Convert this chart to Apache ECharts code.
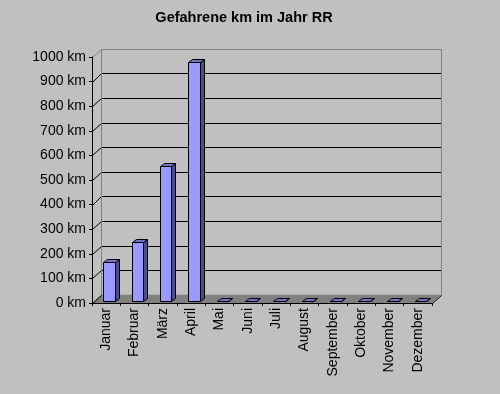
<!DOCTYPE html>
<html>
<head>
<meta charset="utf-8">
<script src="https://cdn.jsdelivr.net/npm/echarts@6/dist/echarts.min.js"></script>
<style>
html,body{margin:0;padding:0;background:#c0c0c0;}
#chart{width:500px;height:394px;}
</style>
</head>
<body>
<div id="chart"></div>
<script>
const titleText = 'Gefahrene km im Jahr RR';
const categories = ['Januar','Februar','März','April','Mai','Juni','Juli','August','September','Oktober','November','Dezember'];
const kmValues = [158, 237, 547, 970, 0, 0, 0, 0, 0, 0, 0, 0];
const yTickValues = [0, 100, 200, 300, 400, 500, 600, 700, 800, 900, 1000];
const yUnit = ' km';

const DX = 9.4, DY = -8.2;     // depth of the 3D box
const F = 0.3, G = 0.38;       // bar front position and bar depth (fractions of depth)
const FONT = 'Liberation Sans, Arial, sans-serif';

function c(v){ return Math.round(v) + 0.5; }

function renderFrame(params, api){
  const cs = params.coordSys;
  const x0 = cs.x, x1 = cs.x + cs.width;
  const yB = api.coord([0, yTickValues[0]])[1];
  const yT = api.coord([0, yTickValues[yTickValues.length - 1]])[1];
  const ch = [];
  ch.push({type:'polygon', shape:{points:[[x0, yB],[x1, yB],[x1+DX, yB+DY],[x0+DX, yB+DY]]},
           style:{fill:'#808080', stroke:null}});
  yTickValues.forEach(function(v, i){
    if (i === 0 || i === yTickValues.length - 1) return;
    const y = api.coord([0, v])[1];
    ch.push({type:'line', shape:{x1:c(x0+DX), y1:c(y+DY), x2:c(x1+DX), y2:c(y+DY)}, style:{stroke:'#000', lineWidth:1}});
    ch.push({type:'line', shape:{x1:x0+0.5, y1:c(y), x2:c(x0+DX), y2:c(y+DY)}, style:{stroke:'#000', lineWidth:1}});
  });
  ch.push({type:'polyline', shape:{points:[[c(x0+DX), c(yB+DY)],[c(x0+DX), c(yT+DY)],[c(x1+DX), c(yT+DY)],[c(x1+DX), c(yB+DY)]]},
           style:{stroke:'#808080', lineWidth:1, fill:null}});
  ch.push({type:'line', shape:{x1:x0+0.5, y1:c(yT), x2:c(x0+DX), y2:c(yT+DY)}, style:{stroke:'#808080', lineWidth:1}});
  ch.push({type:'line', shape:{x1:x0+0.5, y1:c(yB), x2:c(x0+DX), y2:c(yB+DY)}, style:{stroke:'#000', lineWidth:1}});
  ch.push({type:'line', shape:{x1:c(x1), y1:c(yB), x2:c(x1+DX), y2:c(yB+DY)}, style:{stroke:'#000', lineWidth:1}});
  return {type:'group', children: ch};
}

function renderBar(params, api){
  const idx = api.value(0), val = api.value(1);
  const p = api.coord([idx, val]);
  const yb = api.coord([idx, 0])[1];
  const band = api.size([1, 0])[0];
  const w = band * 0.41;
  const left = c(p[0] - w/2 + F*DX);
  const right = c(p[0] + w/2 + F*DX);
  const top = c(p[1] + F*DY);
  const bottom = c(yb + F*DY);
  const gx = Math.round(G*DX), gy = Math.round(G*DY);
  const st = {stroke:'#000', lineWidth:1};
  return {type:'group', children:[
    {type:'polygon', shape:{points:[[right, top],[right+gx, top+gy],[right+gx, bottom+gy],[right, bottom]]},
     style:Object.assign({fill:'#4d4d85'}, st)},
    {type:'polygon', shape:{points:[[left, top],[right, top],[right+gx, top+gy],[left+gx, top+gy]]},
     style:Object.assign({fill:'#7373c4'}, st)},
    {type:'polygon', shape:{points:[[left, top],[right, top],[right, bottom],[left, bottom]]},
     style:Object.assign({fill:'#9999ff'}, st)}
  ]};
}

const chart = echarts.init(document.getElementById('chart'), null, {renderer:'canvas'});
chart.setOption({
  backgroundColor:'#c0c0c0',
  animation:false,
  title:{
    text:titleText, left:239, top:5, textAlign:'center',
    textStyle:{fontFamily:FONT, fontSize:14.5, fontWeight:'bold', color:'#000'}
  },
  grid:{left:92, right:68, top:57, bottom:91, containLabel:false},
  xAxis:{
    type:'category', data:categories, boundaryGap:true, z:5,
    axisLine:{show:true, lineStyle:{color:'#000', width:1}},
    axisTick:{show:true, length:3, lineStyle:{color:'#000'}},
    axisLabel:{rotate:90, margin:5, interval:0, color:'#000', fontFamily:FONT, fontSize:14}
  },
  yAxis:{
    type:'value', min:yTickValues[0], max:yTickValues[yTickValues.length-1], interval:100, z:5,
    axisLine:{show:true, lineStyle:{color:'#000', width:1}},
    axisTick:{show:true, length:3, lineStyle:{color:'#000'}},
    splitLine:{show:false},
    axisLabel:{margin:6, color:'#000', fontFamily:FONT, fontSize:14, formatter:function(v){ return v + yUnit; }}
  },
  series:[
    {type:'custom', coordinateSystem:'cartesian2d', silent:true, z:1, data:[[0,0]], renderItem:renderFrame},
    {type:'custom', coordinateSystem:'cartesian2d', silent:true, z:2,
     data:kmValues.map(function(v,i){ return [i, v]; }), renderItem:renderBar}
  ]
});
</script>
</body>
</html>
